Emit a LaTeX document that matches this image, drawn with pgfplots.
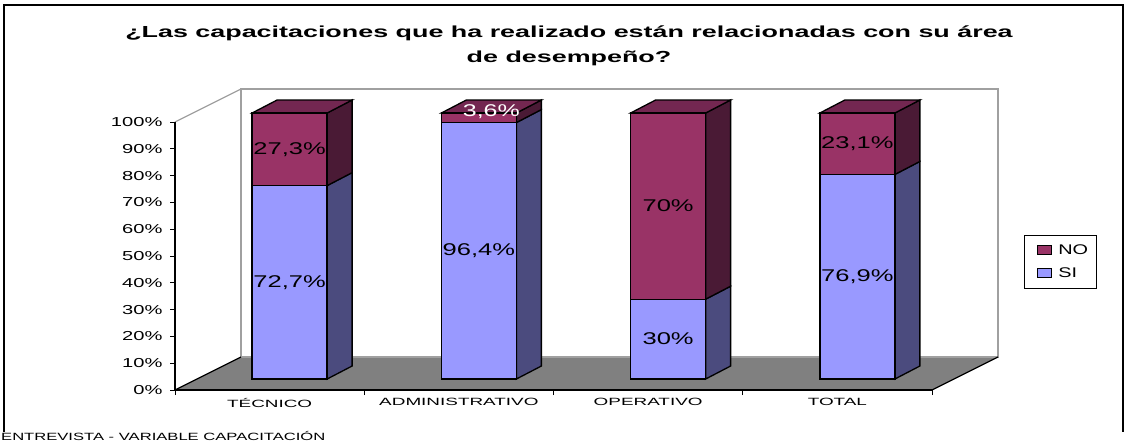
\documentclass[border=0pt]{standalone}
\usepackage{pgfplots}
\pgfplotsset{compat=1.18}
\usepackage{pgfplotstable}
\usepackage{graphicx}
\usepackage{fontspec}
\setmainfont{Liberation Sans}

\definecolor{siF}{HTML}{9999FF}
\definecolor{siS}{HTML}{4B4B7E}
\definecolor{noF}{HTML}{993366}
\definecolor{noS}{HTML}{4A1A35}
\definecolor{noT}{HTML}{732751}
\definecolor{floorC}{HTML}{808080}
\definecolor{wallC}{HTML}{A0A0A0}

\newcommand\fs[2]{\fontsize{#1bp}{#2bp}\selectfont}
\newcommand\hs[2]{\scalebox{#1}[1]{#2}}

\pgfplotstableread{
x si no silab nolab
0.5 72.7 27.3 72,7\% 27,3\%
1.5 96.4 3.6 96,4\% {}
2.5 30 70 30\% 70\%
3.5 76.9 23.1 76,9\% 23,1\%
}\datatable

% 3D side and top faces of one stacked bar: #1 = x position, #2 = SI value
\newcommand\barfaces[2]{%
 \pgfmathsetmacro\bfXl{#1-0.1982}%
 \pgfmathsetmacro\bfXr{#1+0.1982}%
 \pgfmathsetmacro\bfXlb{#1-0.1982+0.1321}%
 \pgfmathsetmacro\bfXrb{#1+0.1982+0.1321}%
 \pgfmathsetmacro\bfYs{#2+4.887}%
 \edef\bfDo{%
 \noexpand\addplot[fill=siS, draw=black, line width=1.3bp] coordinates {(\bfXr,0) (\bfXrb,4.887) (\bfXrb,\bfYs) (\bfXr,#2)} -- cycle;
 \noexpand\addplot[fill=noS, draw=black, line width=1.3bp] coordinates {(\bfXr,#2) (\bfXrb,\bfYs) (\bfXrb,104.887) (\bfXr,100)} -- cycle;
 \noexpand\addplot[fill=noT, draw=black, line width=1.3bp] coordinates {(\bfXl,100) (\bfXr,100) (\bfXrb,104.887) (\bfXlb,104.887)} -- cycle;
 }\bfDo}

\pgfplotsset{sqlegend/.style={legend image code/.code={\path (0bp,0bp); \draw[##1] (6bp,-4bp) rectangle (20bp,5bp);}}}

\begin{document}
\begin{tikzpicture}
\path[use as bounding box] (0,0) rectangle (1129bp,-444bp);
% outer frame
\draw[black, line width=2bp] (4bp,-432bp) -- (4bp,-5bp) -- (1123bp,-5bp) -- (1123bp,-432bp);
% title
\node[align=center, font=\bfseries\fs{16}{25}] at (569bp,-45.5bp)
 {\hs{1.68}{¿Las capacitaciones que ha realizado están relacionadas con su área}\\ \hs{1.68}{de desempeño?}};
% footer
\node[anchor=west, font=\fs{10.5}{12}, inner sep=0pt] at (1bp,-436bp)
 {\hs{1.58}{ENTREVISTA - VARIABLE CAPACITACIÓN}};

% front frame: walls, floor, axes
\begin{axis}[
 at={(175bp,-390bp)}, anchor=south west,
 x=189.25bp, y=2.68bp,
 xmin=0, xmax=4, ymin=0, ymax=100,
 axis x line*=bottom, axis y line*=left,
 axis line style={black, line width=1.2bp},
 clip=false, axis on top,
 xtick={0.5,1.5,2.5,3.5},
 xticklabels={\hs{1.8}{TÉCNICO},\hs{1.8}{ADMINISTRATIVO},\hs{1.8}{OPERATIVO},\hs{1.8}{TOTAL}},
 minor xtick={0,1,2,3,4},
 major x tick style={draw=none},
 minor x tick style={black, line width=1bp},
 ytick={0,10,...,100},
 /pgf/number format/assume math mode=true,
 yticklabel={\hs{1.55}{\pgfmathprintnumber{\tick}\%}},
 y tick style={black, line width=1bp},
 tick align=outside, major tick length=5bp, minor tick length=5bp,
 xticklabel style={font=\fs{10.5}{12}},
 yticklabel style={font=\fs{13}{15}, xshift=-4bp},
]
\fill[floorC] (axis cs:0,0) -- (axis cs:4,0) -- (axis cs:4.3487,12.313) -- (axis cs:0.3487,12.313) -- cycle;
\draw[wallC, line width=1.5bp] (axis cs:0.3487,12.313) -- (axis cs:0.3487,112.313) -- (axis cs:4.3487,112.313) -- (axis cs:4.3487,12.313) -- cycle;
\draw[wallC, line width=1.2bp] (axis cs:0,100) -- (axis cs:0.3487,112.313);
\draw[black, line width=1.2bp] (axis cs:0,0) -- (axis cs:0.3487,12.313);
\draw[black, line width=1.2bp] (axis cs:4,0) -- (axis cs:4.3487,12.313);
\end{axis}

% 3D faces of the bars
\begin{axis}[
 at={(195bp,-379bp)}, anchor=south west,
 x=189.25bp, y=2.66bp,
 xmin=0, xmax=4, ymin=0, ymax=100,
 hide axis, clip=false,
]
\barfaces{0.5}{72.7}
\barfaces{1.5}{96.4}
\barfaces{2.5}{30}
\barfaces{3.5}{76.9}
\end{axis}

% front faces of the bars
\begin{axis}[
 at={(195bp,-379bp)}, anchor=south west,
 x=189.25bp, y=2.66bp,
 xmin=0, xmax=4, ymin=0, ymax=100,
 hide axis, clip=false,
 ybar stacked, bar width=0.3963,
 point meta=explicit symbolic,
 nodes near coords={\hs{1.5}{\pgfplotspointmeta}},
 every node near coord/.append style={font=\fs{17}{20}, anchor=center},
 legend style={at={(1.0951,0.5414)}, anchor=north west, draw=black, line width=1bp, fill=white,
   font=\fs{14}{16}, inner xsep=7bp, inner ysep=8bp, row sep=10bp, column sep=5bp,
   nodes={inner sep=1bp}, cells={anchor=west}},
]
\addlegendimage{sqlegend, fill=noF, draw=black, line width=0.8bp}
\addlegendentry{\hs{1.42}{NO}}
\addlegendimage{sqlegend, fill=siF, draw=black, line width=0.8bp}
\addlegendentry{\hs{1.42}{SI}}
\addplot[fill=siF, draw=black, line width=1.3bp] table[x=x, y=si, meta=silab] \datatable;
\addplot[fill=noF, draw=black, line width=1.3bp] table[x=x, y=no, meta=nolab] \datatable;
\end{axis}

% label of the thin top segment, drawn over everything
\begin{axis}[
 at={(195bp,-379bp)}, anchor=south west,
 x=189.25bp, y=2.66bp,
 xmin=0, xmax=4, ymin=0, ymax=100,
 hide axis, clip=false,
]
\node[text=white, font=\fs{17}{20}] at (axis cs:1.566,100.6) {\hs{1.47}{3,6\%}};
\end{axis}
\end{tikzpicture}
\end{document}
